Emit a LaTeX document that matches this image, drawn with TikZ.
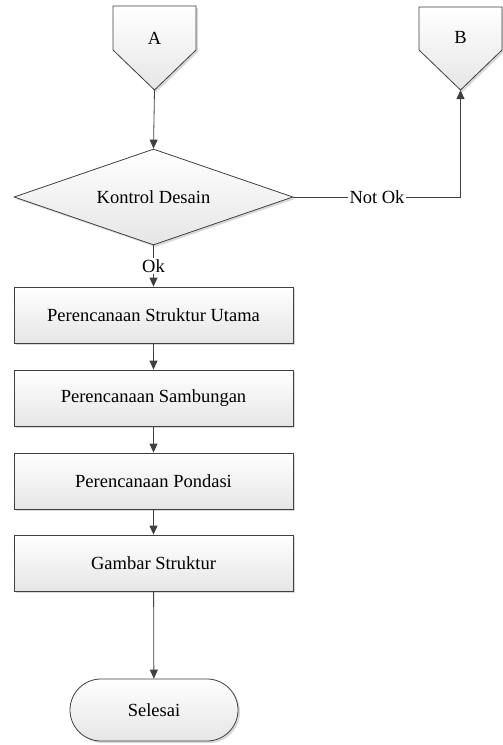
\documentclass[tikz,border=0pt]{standalone}
\usepackage{fontspec}
\setmainfont{Liberation Serif}
\usetikzlibrary{shapes.geometric,shadows,arrows.meta}
\begin{document}
\begin{tikzpicture}[x=1pt,y=-1pt,
  lw/.style={draw=black!75,line width=0.8pt},
  fillsh/.style={top color=white,bottom color=black!10},
  shd/.style={drop shadow={shadow xshift=2pt,shadow yshift=-2pt,opacity=0.25,fill=black!60}},
  procbox/.style={lw,fillsh,shd,minimum width=279pt,minimum height=56pt,inner sep=0pt},
  lbl/.style={font=\fontsize{18.5}{22}\selectfont},
  arr/.style={draw=black!75,line width=0.8pt,-{Triangle[length=9pt,width=8pt]}},
  ln/.style={draw=black!75,line width=0.8pt}
]
\useasboundingbox (0,0) rectangle (503,745);
% connector A
\draw[lw,fillsh,shd] (113,6) -- (196,6) -- (196,50) -- (154.5,90) -- (113,50) -- cycle;
\node[lbl] (A) at (154.5,38) {A};
\coordinate (Atip) at (154.5,90);
% connector B
\draw[lw,fillsh,shd] (419,7) -- (502,7) -- (502,50) -- (460.5,90) -- (419,50) -- cycle;
\node[lbl] (B) at (460.5,37) {B};
\coordinate (Btip) at (460.5,90);
% decision
\node[lw,fillsh,shd,diamond,aspect=2.9,minimum width=279pt,minimum height=96pt,inner sep=0pt,lbl] (D) at (153.5,197) {Kontrol Desain};
\node[procbox,lbl] (P1) at (153.5,315) {Perencanaan Struktur Utama};
\node[procbox,lbl] (P2) at (153.5,398) {Perencanaan Sambungan};
\node[procbox,lbl] (P3) at (153.5,481) {Perencanaan Pondasi};
\node[procbox,lbl] (P4) at (153.5,563) {Gambar Struktur};
\node[lw,fillsh,shd,rectangle,rounded corners=31pt,minimum width=168pt,minimum height=62pt,inner sep=0pt,lbl] (E) at (154,710) {Selesai};
% connectors
\draw[arr] (Atip) -- (D.north);
\node[lbl,fill=white,inner sep=1pt] (ok) at (153.5,266) {Ok};
\draw[ln] (D.south) -- (ok.north);
\draw[arr] (ok.south) -- (P1.north);
\node[lbl,fill=white,inner sep=1pt] (nok) at (377,197) {Not Ok};
\draw[ln] (D.east) -- (nok.west);
\draw[arr] (nok.east) -| (Btip);
\draw[arr] (P1) -- (P2);
\draw[arr] (P2) -- (P3);
\draw[arr] (P3) -- (P4);
\draw[arr] (P4) -- (E);
\end{tikzpicture}
\end{document}
